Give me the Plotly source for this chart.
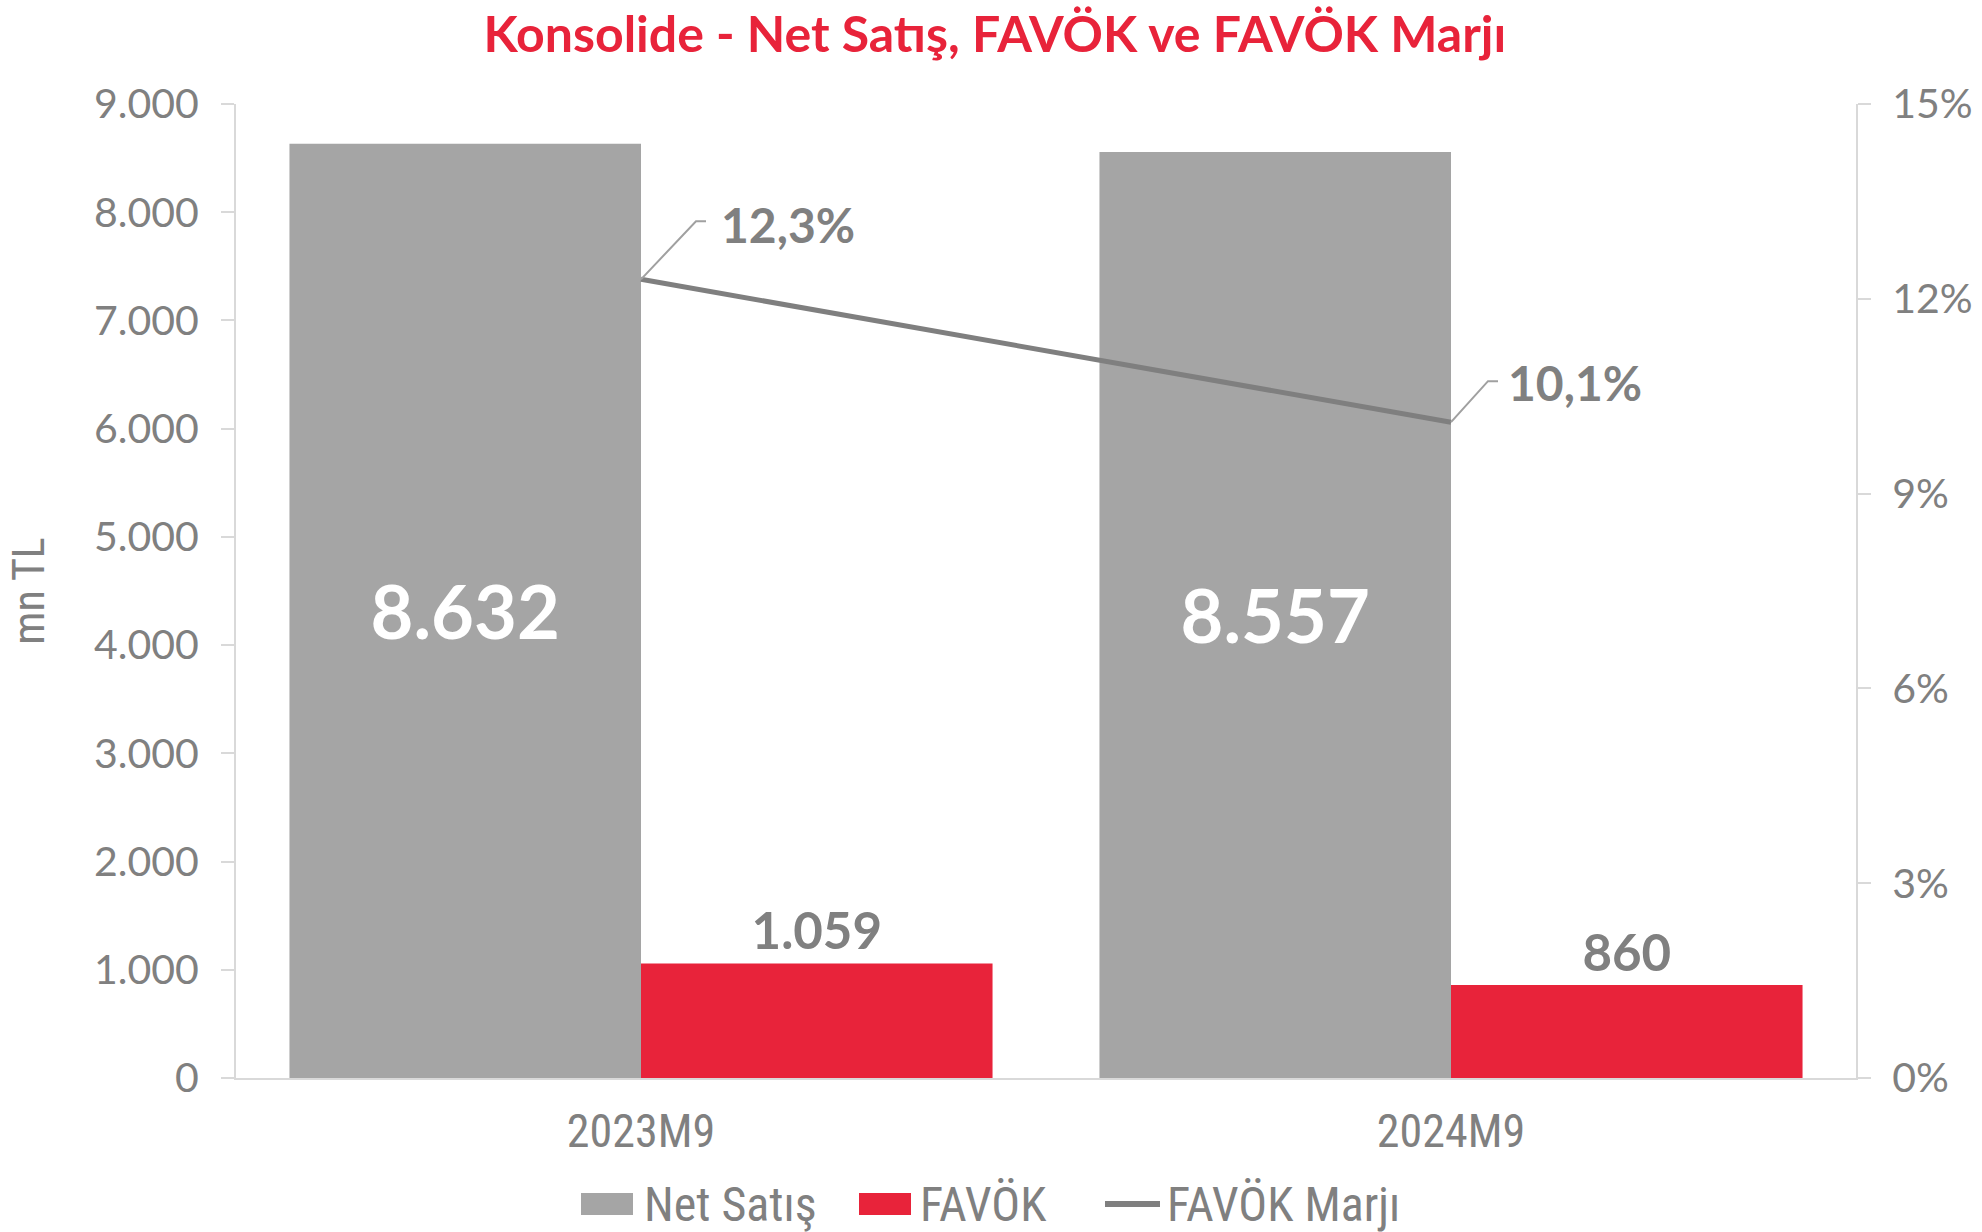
import plotly.graph_objects as go

# ---- data ----
categories = ["2023M9", "2024M9"]
net_satis = [8632, 8557]
favok = [1059, 860]
favok_marji = [12.3, 10.1]

y_ticks = [0, 1000, 2000, 3000, 4000, 5000, 6000, 7000, 8000, 9000]
y2_ticks = [0, 3, 6, 9, 12, 15]
y2_ticktext = [f"{v}%" for v in y2_ticks]

# ---- styling ----
GRAY_BAR = "#A5A5A5"
RED = "#E8233A"
LINE_GRAY = "#7F7F7F"
TXT_GRAY = "#808080"
AX_GRAY = "#D9D9D9"
FONT = "Lato, 'Open Sans', sans-serif"
NARROW = "'Liberation Sans Narrow', 'Roboto Condensed', 'Liberation Sans', sans-serif"

W, H = 1982, 1232
M_L, M_R, M_T, M_B = 236, 126, 104, 154
PW, PH = W - M_L - M_R, H - M_T - M_B

# pixel offsets for leader lines / labels of margin series: (elbow_dx, elbow_dy, end_dx, text_dx, text_dy)
label_offsets = [(55, 58, 65, 78, 55), (37, 41, 47, 55, 40)]

# manual legend layout (page pixels): symbol x0, symbol x1, text x
legend_slots = [(581, 633, 642), (859, 911, 918), (1105, 1160, 1165)]
LEG_Y = 1204
LEG_SQ_H = 22


def px_x(x):
    return (x - M_L) / PW


def px_y(y):
    return (H - M_B - y) / PH


fig = go.Figure()

fig.add_trace(go.Bar(
    x=categories, y=net_satis, name="Net Satış",
    marker=dict(color=GRAY_BAR, line=dict(width=0)),
    texttemplate="%{y:,.0f}", textposition="inside", insidetextanchor="middle",
    textfont=dict(color="white", size=74, family=FONT, weight="bold"),
    cliponaxis=False,
))
fig.add_trace(go.Bar(
    x=categories, y=favok, name="FAVÖK",
    marker=dict(color=RED, line=dict(width=0)),
    texttemplate="%{y:,.0f}", textposition="outside",
    textfont=dict(color=TXT_GRAY, size=51, family=FONT, weight="bold"),
    cliponaxis=False,
))
fig.add_trace(go.Scatter(
    x=categories, y=favok_marji, name="FAVÖK Marjı", yaxis="y2",
    mode="lines", line=dict(color=LINE_GRAY, width=5),
))

annotations = []
shapes = []
for i, (cat, val) in enumerate(zip(categories, favok_marji)):
    ex, ey, hx, tx, ty = label_offsets[i]
    shapes.append(dict(
        type="path", xref="x", yref="y2", xsizemode="pixel", ysizemode="pixel",
        xanchor=cat, yanchor=val,
        path=f"M0,0 L{ex},{ey} L{hx},{ey}",
        line=dict(color="#A0A0A0", width=2),
    ))
    annotations.append(dict(
        x=cat, y=val, xref="x", yref="y2", showarrow=False,
        text=f"{val:.1f}".replace(".", ",") + "%",
        xanchor="left", yanchor="middle", xshift=tx, yshift=ty,
        font=dict(color=TXT_GRAY, size=48, family=FONT, weight="bold"),
    ))

# legend drawn manually for larger symbols (matches reference)
for tr, (sx0, sx1, tx) in zip(fig.data, legend_slots):
    if tr.type == "bar":
        shapes.append(dict(
            type="rect", xref="paper", yref="paper",
            x0=px_x(sx0), x1=px_x(sx1),
            y0=px_y(LEG_Y + LEG_SQ_H / 2), y1=px_y(LEG_Y - LEG_SQ_H / 2),
            fillcolor=tr.marker.color, line=dict(width=0), layer="above",
        ))
    else:
        shapes.append(dict(
            type="line", xref="paper", yref="paper",
            x0=px_x(sx0), x1=px_x(sx1), y0=px_y(LEG_Y), y1=px_y(LEG_Y),
            line=dict(color=tr.line.color, width=6), layer="above",
        ))
    annotations.append(dict(
        x=px_x(tx), y=px_y(LEG_Y), xref="paper", yref="paper", showarrow=False,
        text=tr.name, xanchor="left", yanchor="middle",
        font=dict(size=48, family=NARROW, color=TXT_GRAY),
    ))

fig.update_layout(
    width=W, height=H,
    paper_bgcolor="white", plot_bgcolor="white",
    separators=",.",
    barmode="group", bargap=0.132, bargroupgap=0,
    margin=dict(l=M_L, r=M_R, t=M_T, b=M_B, autoexpand=False),
    title=dict(
        text="Konsolide - Net Satış, FAVÖK ve FAVÖK Marjı",
        x=0.502, xanchor="center", y=0.9716, yanchor="middle", xref="container", yref="container",
        font=dict(color=RED, size=50, family=FONT, weight="bold"),
    ),
    font=dict(family=FONT, color=TXT_GRAY),
    xaxis=dict(
        showline=True, linecolor=AX_GRAY, linewidth=2,
        showgrid=False, ticks="", ticklabelstandoff=12,
        tickfont=dict(size=46, family=NARROW, color=TXT_GRAY),
    ),
    yaxis=dict(
        range=[0, 9000], tickvals=y_ticks, tickformat=",.0f",
        showline=True, linecolor=AX_GRAY, linewidth=2,
        showgrid=False, zeroline=False,
        ticks="outside", ticklen=13, tickcolor=AX_GRAY, tickwidth=2,
        ticklabelstandoff=14,
        tickfont=dict(size=41, color=TXT_GRAY),
        title=dict(text="mn TL", font=dict(size=44, family=NARROW, color=TXT_GRAY), standoff=36),
    ),
    yaxis2=dict(
        range=[0, 15], tickvals=y2_ticks, ticktext=y2_ticktext,
        overlaying="y", side="right", anchor="x",
        showline=True, linecolor=AX_GRAY, linewidth=2,
        showgrid=False, zeroline=False,
        ticks="outside", ticklen=13, tickcolor=AX_GRAY, tickwidth=2,
        ticklabelstandoff=13,
        tickfont=dict(size=41, color=TXT_GRAY),
    ),
    yaxis3=dict(
        range=[0, 9000], tickvals=y_ticks, overlaying="y", side="left", anchor="x",
        showline=False, showgrid=False, zeroline=False, showticklabels=False,
        ticks="inside", ticklen=13, tickcolor=AX_GRAY, tickwidth=2,
    ),
    yaxis4=dict(
        range=[0, 15], tickvals=y2_ticks, overlaying="y", side="right", anchor="x",
        showline=False, showgrid=False, zeroline=False, showticklabels=False,
        ticks="inside", ticklen=13, tickcolor=AX_GRAY, tickwidth=2,
    ),
    showlegend=False,
    annotations=annotations,
    shapes=shapes,
)

fig.write_html(
    "out.html",
    config={"displayModeBar": False},
    post_script="document.body.style.margin='0';document.body.style.overflow='hidden';",
)
